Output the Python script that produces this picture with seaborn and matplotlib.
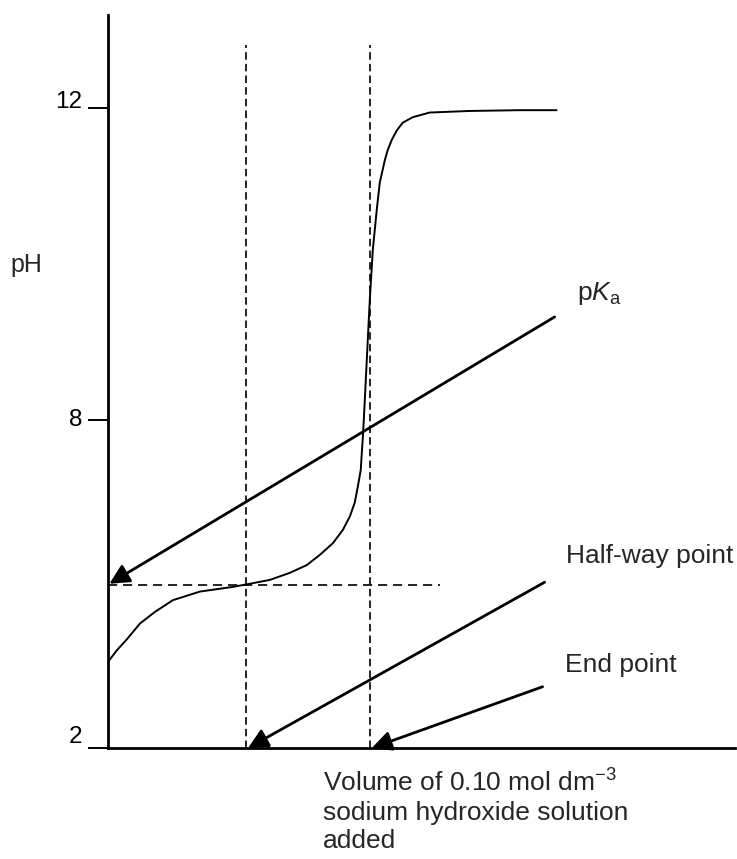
import matplotlib
matplotlib.use("Agg")
import matplotlib.pyplot as plt
import seaborn as sns
import pandas as pd

# titration curve (volume in arbitrary units, pH on the sketch scale)
volume = [0.0, 0.69, 1.45, 2.44, 3.59, 4.96, 7.02, 9.54, 10.84, 12.37, 13.89, 15.19,
          16.18, 17.18, 17.94, 18.47, 18.85, 19.08, 19.31, 19.39, 19.47, 19.54, 19.62,
          19.77, 20.0, 20.23, 20.53, 20.76, 21.15, 21.37, 21.68, 22.06, 22.52, 23.28,
          24.58, 27.63, 31.45, 34.27]
ph = [4.90, 5.05, 5.19, 5.39, 5.54, 5.69, 5.80, 5.86, 5.90, 5.95, 6.04, 6.14,
      6.27, 6.42, 6.59, 6.76, 6.94, 7.14, 7.36, 7.58, 7.78, 8.00, 8.26,
      8.77, 9.54, 10.18, 10.69, 11.04, 11.33, 11.46, 11.59, 11.71, 11.81, 11.88,
      11.94, 11.96, 11.97, 11.97]

# axis frame and tick labels
x_max = 47.9
y_axis_bottom = 3.795
y_axis_top = 13.19
tick_pos = [y_axis_bottom, 8, 12]
tick_labels = ['2', '8', '12']

# guide lines
half_vol = 10.53
end_vol = 20.0
dash_top = 12.81
pka_level = 5.885
pka_dash_end = 25.34

# annotation arrows: (label, text x, text y, line start x, line start y, tip x, tip y)
arrows = [
    ('pKa', 35.8, 9.54, 34.12, 9.32, 0.1, 5.90),
    ('Half-way point', 34.96, 6.167, 33.36, 5.92, 10.7, y_axis_bottom),
    ('End point', 34.89, 4.769, 33.2, 4.58, 20.15, y_axis_bottom),
]

xlabel_lines = ['Volume of 0.10 mol dm$^{\\mathsf{-3}}$', 'sodium hydroxide solution', 'added']
xlabel_x = 16.41
xlabel_y = [3.23, 2.87, 2.51]

sns.set_style('white')
plt.rcParams['font.family'] = ['Liberation Sans', 'DejaVu Sans']
plt.rcParams['mathtext.fontset'] = 'custom'
plt.rcParams['mathtext.rm'] = 'Liberation Sans'
plt.rcParams['mathtext.it'] = 'Liberation Sans:italic'
plt.rcParams['mathtext.sf'] = 'Liberation Sans'

fig = plt.figure(figsize=(7.37, 8.59), dpi=100)
ax = fig.add_axes([108 / 737, (859 - 748) / 859, (735 - 108) / 737, (748 - 15) / 859])

df = pd.DataFrame({'volume': volume, 'pH': ph})
sns.lineplot(data=df, x='volume', y='pH', ax=ax, color='black', lw=1.4,
             sort=False, estimator=None)

# dashed guides
ax.vlines([half_vol, end_vol], y_axis_bottom, dash_top, colors='black', lw=1.2,
          linestyles=[(0, (4.5, 2.5))])
ax.hlines(pka_level, 0, pka_dash_end, colors='black', lw=1.2,
          linestyles=[(0, (5.5, 3.5))])

# labelled arrows
for label, tx, ty, sx, sy, px, py in arrows:
    ax.annotate('', xy=(px, py), xytext=(sx, sy),
                arrowprops=dict(arrowstyle='-|>,head_length=0.6,head_width=0.3',
                                color='black', lw=2, mutation_scale=20,
                                shrinkA=0, shrinkB=0))
    if label == 'pKa':
        label = 'p$\\mathit{K}_{\\mathsf{a}}$'
    ax.text(tx, ty, label, fontsize=19, ha='left', va='baseline', clip_on=False)

ax.text(-7.48, 9.90, 'pH', fontsize=18, ha='left', va='baseline', clip_on=False)
for line, ly in zip(xlabel_lines, xlabel_y):
    ax.text(xlabel_x, ly, line, fontsize=19, ha='left', va='baseline', clip_on=False)

ax.set_xlim(0, x_max)
ax.set_ylim(y_axis_bottom, y_axis_top)
ax.set_xlabel('')
ax.set_ylabel('')
ax.set_xticks([])
ax.set_yticks(tick_pos, labels=tick_labels)
ax.tick_params(axis='y', length=14.4, width=1.4, pad=4, labelsize=17.5, color='black',
               labelcolor='black', left=True)
for lab, va in zip(ax.get_yticklabels(), ['bottom', 'center', 'baseline']):
    lab.set_va(va)

for side in ['top', 'right']:
    ax.spines[side].set_visible(False)
for side in ['left', 'bottom']:
    ax.spines[side].set_linewidth(2)
    ax.spines[side].set_color('black')

fig.savefig('out.png', dpi=100)
